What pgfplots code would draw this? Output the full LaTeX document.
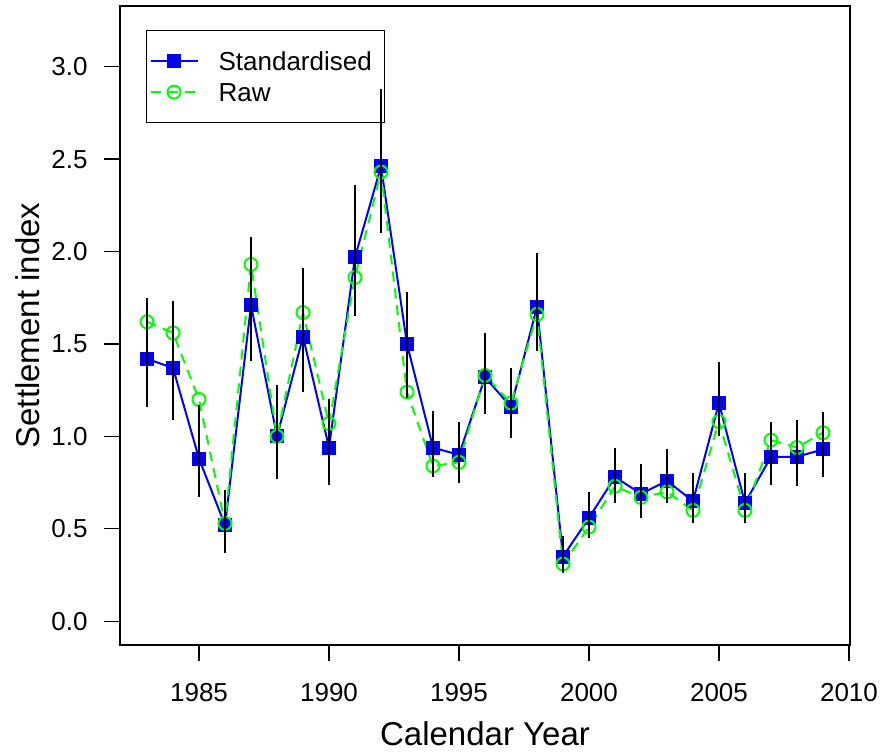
\documentclass[border=0pt]{standalone}
\usepackage{fontspec}
\setmainfont{Liberation Sans}
\usepackage{pgfplots}
\usepackage{pgfplotstable}
\pgfplotsset{compat=1.18}
\definecolor{stdblue}{HTML}{0000FF}
\definecolor{rawgreen}{HTML}{00FF00}

% year, standardised index, upper and lower bound of its bar, raw index
\pgfplotstableread{
year std hi lo raw
1983 1.42 1.75 1.16 1.62
1984 1.37 1.73 1.09 1.56
1985 0.88 1.17 0.67 1.20
1986 0.52 0.71 0.37 0.53
1987 1.71 2.08 1.41 1.93
1988 1.00 1.28 0.77 1.00
1989 1.54 1.91 1.24 1.67
1990 0.94 1.20 0.74 1.07
1991 1.97 2.36 1.65 1.86
1992 2.46 2.88 2.10 2.43
1993 1.50 1.78 1.21 1.24
1994 0.94 1.14 0.78 0.84
1995 0.90 1.08 0.75 0.86
1996 1.32 1.56 1.12 1.33
1997 1.16 1.37 0.99 1.18
1998 1.70 1.99 1.46 1.66
1999 0.35 0.46 0.26 0.31
2000 0.56 0.70 0.45 0.51
2001 0.78 0.94 0.64 0.73
2002 0.69 0.85 0.56 0.67
2003 0.76 0.93 0.64 0.70
2004 0.65 0.80 0.53 0.60
2005 1.18 1.40 1.00 1.08
2006 0.64 0.80 0.53 0.60
2007 0.89 1.08 0.74 0.98
2008 0.89 1.09 0.73 0.94
2009 0.93 1.13 0.78 1.02
}\settlement

\pgfplotsset{
    frame/.style={
        scale only axis,
        width=365pt,
        height=319.5pt,
        xmin=1981.96, xmax=2010.04,
        ymin=-0.128, ymax=3.328,
    },
}

\begin{document}
\begin{tikzpicture}
\begin{axis}[
    frame,
    xtick={1985,1990,...,2010},
    ytick={0,0.5,...,3.0},
    axis line style={line width=0.6pt},
    tick style={black, line width=0.6pt},
    tick align=outside,
    major tick length=8pt,
    xtick pos=bottom,
    ytick pos=left,
    /pgf/number format/assume math mode=true,
    x tick label style={/pgf/number format/1000 sep={}, font=\fontsize{13}{15}\selectfont,
        anchor=north, inner sep=0pt, yshift=-11pt},
    y tick label style={/pgf/number format/.cd, fixed, fixed zerofill, precision=1, /tikz/.cd,
        font=\fontsize{13}{15}\selectfont, anchor=east, inner sep=0pt, xshift=-8pt},
    xlabel={Calendar Year},
    ylabel={Settlement index},
    label style={font=\fontsize{16.5}{19}\selectfont},
    xlabel style={at={(axis description cs:0.5,-0.158)}, anchor=base},
    ylabel style={at={(axis description cs:-0.127,0.5)}, anchor=center},
    legend style={at={(axis description cs:0.0356,0.9624)}, anchor=north west,
        draw=black, line width=0.6pt, inner xsep=1.5pt, inner ysep=7.5pt,
        font=\fontsize{13}{15}\selectfont, row sep=0pt,
        nodes={inner sep=0pt, text height=12.5pt, text depth=3pt, anchor=west},
        /tikz/every odd column/.append style={column sep=10pt}},
    legend cell align=left,
    legend image code/.code={
        \draw[mark repeat=2, mark phase=2] plot coordinates {(0pt,0pt) (11.75pt,0pt) (23.5pt,0pt)};
    },
]
\addplot[stdblue, line width=1pt, mark=square*, mark size=3pt,
    mark options={solid, fill=stdblue, draw=stdblue}]
    table[x=year, y=std] {\settlement};
\addlegendentry{Standardised\kern5pt}
\addplot[rawgreen, line width=1pt, dash pattern=on 5pt off 3.5pt, mark=o, mark size=3.25pt,
    mark options={solid, rawgreen}]
    table[x=year, y=raw] {\settlement};
\addlegendentry{Raw}
\end{axis}
% error bars go on top of everything, the legend included
\begin{axis}[frame, hide axis]
\addplot[draw=none,
    error bars/.cd, y dir=both, y explicit, error mark=none,
    error bar style={draw=black, solid, line width=1pt}]
    table[x=year, y=std,
        y error plus expr=\thisrow{hi}-\thisrow{std},
        y error minus expr=\thisrow{std}-\thisrow{lo}] {\settlement};
\end{axis}
\path (current axis.south west) ++(-60pt,-55pt) rectangle ++(441pt,377.5pt);
\end{tikzpicture}
\end{document}
